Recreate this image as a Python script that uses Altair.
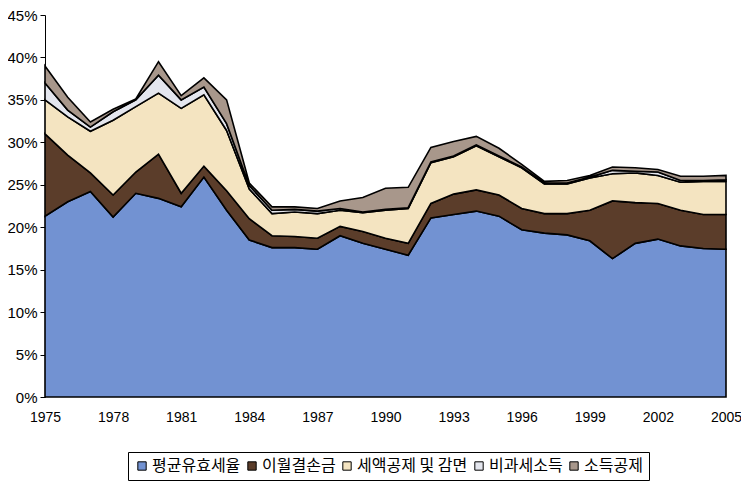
import altair as alt
import pandas as pd

years = list(range(1975, 2006))

s_eff = [21.3, 23.0, 24.2, 21.2, 24.0, 23.4, 22.4, 25.9, 22.0, 18.5, 17.6, 17.6, 17.4, 19.0, 18.1, 17.4,
         16.7, 21.1, 21.5, 21.9, 21.3, 19.7, 19.3, 19.1, 18.4, 16.3, 18.1, 18.6, 17.8, 17.5, 17.4]
s_loss = [9.7, 5.5, 2.2, 2.6, 2.5, 5.2, 1.6, 1.3, 2.3, 2.5, 1.4, 1.3, 1.3, 1.1, 1.4, 1.3,
          1.4, 1.7, 2.4, 2.5, 2.5, 2.5, 2.3, 2.5, 3.6, 6.8, 4.8, 4.2, 4.2, 4.0, 4.1]
s_credit = [4.0, 4.5, 4.9, 8.8, 7.7, 7.2, 10.0, 8.4, 7.1, 3.5, 2.6, 2.9, 2.9, 1.9, 2.2, 3.3,
            4.1, 4.8, 4.4, 5.2, 4.5, 4.8, 3.5, 3.5, 3.8, 3.2, 3.5, 3.3, 3.3, 3.9, 3.9]
s_nontax = [2.0, 0.8, 0.5, 1.0, 0.8, 2.1, 1.0, 0.9, 0.8, 0.4, 0.4, 0.3, 0.3, 0.2, 0.1, 0.1,
            0.1, 0.1, 0.1, 0.1, 0.1, 0.1, 0.1, 0.1, 0.1, 0.4, 0.2, 0.4, 0.2, 0.1, 0.2]
s_deduct = [2.0, 1.5, 0.6, 0.3, 0.1, 1.6, 0.5, 1.1, 2.8, 0.3, 0.4, 0.3, 0.3, 0.9, 1.7, 2.5,
            2.4, 1.7, 1.7, 1.0, 0.9, 0.3, 0.2, 0.3, 0.2, 0.4, 0.4, 0.3, 0.5, 0.5, 0.5]

names = ["평균유효세율", "이월결손금", "세액공제 및 감면", "비과세소득", "소득공제"]
colors = ["#7292d2", "#5b3d2a", "#f4e4c1", "#e4e6ee", "#a8978b"]
series = [s_eff, s_loss, s_credit, s_nontax, s_deduct]

rows = []
for i, (n, vals) in enumerate(zip(names, series)):
    for y, v in zip(years, vals):
        rows.append({"year": y, "series": n, "value": v, "idx": i})
df = pd.DataFrame(rows)

x_ticks = list(range(1975, 2006, 3))
y_ticks = list(range(0, 50, 5))

chart = alt.Chart(df).mark_area(stroke="black", strokeWidth=1.6, strokeJoin="miter", opacity=1).encode(
    x=alt.X("year:Q", scale=alt.Scale(domain=[1975, 2005], nice=False, zero=False),
            axis=alt.Axis(values=x_ticks, format="d", title=None, labelFontSize=14, labelPadding=13,
                          tickSize=0, domain=False, labelColor="black", labelFont="Liberation Sans",
                          grid=False, labelFlush=False)),
    y=alt.Y("value:Q", stack="zero", scale=alt.Scale(domain=[0, 45], nice=False),
            axis=alt.Axis(values=y_ticks, labelExpr="datum.value + '%'", title=None, labelFontSize=15,
                          tickSize=5, tickColor="black", domainColor="black", labelColor="black",
                          labelFont="Liberation Sans", grid=False, labelPadding=3)),
    color=alt.Color("series:N", scale=alt.Scale(domain=names, range=colors),
                    legend=alt.Legend(title=None, orient="none", direction="horizontal",
                                      legendX=83, legendY=437, symbolType="square", symbolSize=70,
                                      symbolStrokeColor="black", symbolStrokeWidth=1,
                                      labelFont="Noto Sans CJK KR", labelFontSize=16, labelColor="black",
                                      strokeColor="black", padding=6, columnPadding=3, symbolOffset=0,
                                      labelOffset=2)),
    order=alt.Order("idx:Q", sort="ascending"),
).properties(
    width=681, height=382,
    autosize=alt.AutoSizeParams(type="none"),
    padding={"left": 37, "top": 7, "right": 15, "bottom": 84},
).configure(background="white").configure_view(strokeWidth=0)

chart.save("out.html", embed_options={"renderer": "svg", "actions": False})
